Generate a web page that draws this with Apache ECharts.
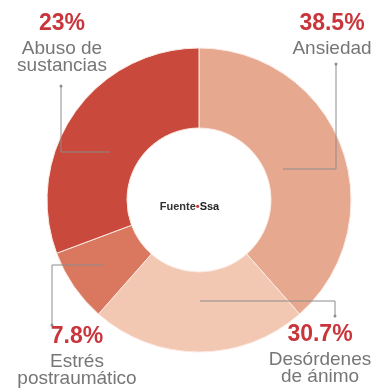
<!DOCTYPE html>
<html>
<head>
<meta charset="utf-8">
<script src="https://cdn.jsdelivr.net/npm/echarts@6/dist/echarts.min.js"></script>
<style>
  html, body { margin: 0; padding: 0; background: #fff; }
  #chart { width: 379px; height: 392px; }
</style>
</head>
<body>
<div id="chart"></div>
<script>
// Slices in drawing order (clockwise from 12 o'clock)
const categories = ['Ansiedad', 'Desórdenes de ánimo', 'Estrés postraumático', 'Abuso de sustancias'];
// Arc shares as drawn in the picture (percent of the ring)
const sliceValues = [38.5, 23.0, 7.8, 30.7];
// Printed percentages next to each label
const labelPercents = ['38.5%', '30.7%', '7.8%', '23%'];
// Printed label lines
const labelLines = [['Ansiedad'], ['Desórdenes', 'de ánimo'], ['Estrés', 'postraumático'], ['Abuso de', 'sustancias']];
const sliceColors = ['#e6a88e', '#f3c8b2', '#d9775f', '#c94a3c'];

// Label anchor (center x, top y) and leader-line elbows, by slice index
const labelPos = [
  { x: 332, y: 8,   line: [[283, 169], [336, 169], [336, 64]] },
  { x: 320, y: 319, line: [[200, 301], [335, 301], [335, 316]] },
  { x: 77,  y: 321, line: [[103, 265], [52, 265], [52, 325]] },
  { x: 62,  y: 8,   line: [[110, 152], [61, 152], [61, 86]] }
];

const chart = echarts.init(document.getElementById('chart'), null, { renderer: 'canvas' });

const data = categories.map((c, i) => ({
  name: c,
  value: sliceValues[i],
  itemStyle: { color: sliceColors[i] }
}));

const rich = {
  p: { fontFamily: 'Liberation Sans', fontWeight: 'bold', fontSize: 23, fill: '#c8363b', lineHeight: 32, align: 'center' },
  n: { fontFamily: 'Liberation Sans', fontSize: 19, fill: '#767676', lineHeight: 17, align: 'center' }
};

const graphics = [];
labelPos.forEach((lp, i) => {
  graphics.push({
    type: 'polyline',
    shape: { points: lp.line },
    style: { stroke: '#8c8c8c', lineWidth: 1, fill: null },
    z: 10
  });
  graphics.push({
    type: 'circle',
    shape: { cx: lp.line[2][0], cy: lp.line[2][1], r: 1.5 },
    style: { fill: '#8c8c8c' },
    z: 10
  });
  graphics.push({
    type: 'text',
    x: lp.x,
    y: lp.y,
    style: {
      text: '{p|' + labelPercents[i] + '}\n' + labelLines[i].map(l => '{n|' + l + '}').join('\n'),
      rich: rich,
      align: 'center',
      verticalAlign: 'top'
    },
    z: 10
  });
});

chart.setOption({
  animation: false,
  title: {
    text: '{a|Fuente}{b|•}{c|Ssa}',
    left: 'center',
    top: 196,
    textStyle: {
      rich: {
        a: { fontFamily: 'Liberation Sans', fontSize: 11, color: '#333' },
        b: { fontFamily: 'Liberation Sans', fontSize: 11, color: '#c8363b' },
        c: { fontFamily: 'Liberation Sans', fontSize: 11, fontWeight: 'bold', color: '#222' }
      }
    }
  },
  series: [{
    type: 'pie',
    center: [199, 200],
    radius: [72, 152],
    startAngle: 90,
    clockwise: true,
    data: data,
    itemStyle: { borderColor: '#fbe9e2', borderWidth: 1 },
    emphasis: { disabled: true },
    label: { show: false },
    labelLine: { show: false }
  }],
  graphic: graphics
});
</script>
</body>
</html>
